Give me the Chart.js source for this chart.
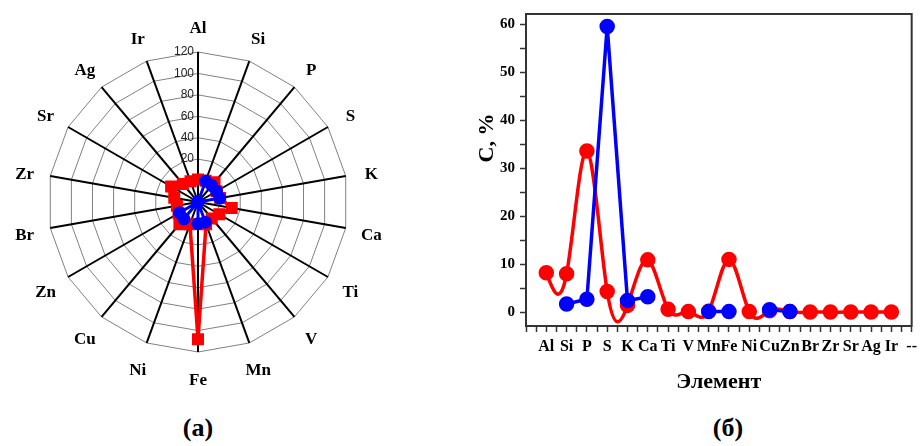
<!DOCTYPE html>
<html>
<head>
<meta charset="utf-8">
<script src="https://cdn.jsdelivr.net/npm/chart.js@4.4.0/dist/chart.umd.min.js"></script>
<style>
  body { margin: 0; background: #fff; width: 922px; height: 446px; position: relative; overflow: hidden; font-family: "Liberation Serif", serif; }
  #radar { position: absolute; left: 0; top: 0; }
  #line { position: absolute; left: 460px; top: 0; }
  .cap { position: absolute; top: 410px; width: 80px; text-align: center; font-weight: bold; font-size: 26px; line-height: 36px; }
</style>
</head>
<body>
<canvas id="radar" width="400" height="404"></canvas>
<canvas id="line" width="462" height="400"></canvas>
<div class="cap" style="left:158px">(а)</div>
<div class="cap" style="left:688px">(б)</div>
<script>
// (a) radar
const radarLabels = ['Al', 'Si', 'P', 'S', 'K', 'Ca', 'Ti', 'V', 'Mn', 'Fe', 'Ni', 'Cu', 'Zn', 'Br', 'Zr', 'Sr', 'Ag', 'Ir'];
const radarRed = [1, 1, 4, 0, 1, 12, 3, 0, 2, 108, 2, 7, 1, 0, 2.5, 9, 2, 0.5];
const radarBlue = [-20, 0.8, 0, 0, 0.6, -20, -20, -20, 0, 0.2, -20, 0.5, 0, -20, -20, -20, -20, -20];
const radarTicks = [20, 40, 60, 80, 100, 120];

// (б) line
const elements = ['Al', 'Si', 'P', 'S', 'K', 'Ca', 'Ti', 'V', 'Mn', 'Fe', 'Ni', 'Cu', 'Zn', 'Br', 'Zr', 'Sr', 'Ag', 'Ir', '--'];
const redVals = [8.2, 8.0, 33.6, 4.3, 1.4, 10.9, 0.6, 0.1, 0.2, 11.0, 0.1, 0.3, 0.1, 0, 0, 0, 0, 0];
const blueVals = [null, 1.7, 2.7, 59.6, 2.4, 3.2, null, null, 0.1, 0.1, null, 0.5, 0.1, null, null, null, null, null];

const serif = "'Liberation Serif', 'Times New Roman', serif";
Chart.defaults.font.family = serif;
Chart.defaults.color = '#000';

// ring values beside the top spoke, element names centred along each spoke
const radarText = {
    id: 'radarText',
    afterDraw(chart) {
        const s = chart.scales.r;
        const ctx = chart.ctx;
        ctx.save();
        ctx.font = "12px 'Liberation Sans', Arial, sans-serif";
        ctx.fillStyle = '#222';
        ctx.textAlign = 'right';
        ctx.textBaseline = 'middle';
        radarTicks.forEach(v => {
            ctx.fillText(String(v), s.xCenter - 4, s.yCenter - s.getDistanceFromCenterForValue(v));
        });
        ctx.font = 'bold 17px ' + serif;
        ctx.fillStyle = '#000';
        ctx.textAlign = 'center';
        radarLabels.forEach((lab, i) => {
            const p = s.getPointPosition(i, s.drawingArea + 26);
            ctx.fillText(lab, p.x, p.y + 3);
        });
        ctx.restore();
    }
};

new Chart(document.getElementById('radar'), {
    type: 'radar',
    data: {
        labels: radarLabels,
        datasets: [
            {
                data: radarBlue,
                borderColor: '#0000ff',
                backgroundColor: '#0000ff',
                borderWidth: 3,
                pointStyle: 'circle',
                pointRadius: 5,
                fill: false
            },
            {
                data: radarRed,
                borderColor: '#ff0000',
                backgroundColor: '#ff0000',
                borderWidth: 3.5,
                pointStyle: 'rect',
                pointRadius: 6,
                fill: false
            }
        ]
    },
    options: {
        responsive: false,
        animation: false,
        layout: { padding: { left: 48, right: 52, top: 52, bottom: 52 } },
        plugins: { legend: { display: false }, tooltip: { enabled: false } },
        scales: {
            r: {
                min: -20,
                max: 120,
                ticks: { stepSize: 20, display: false },
                grid: { circular: false, color: '#808080', lineWidth: 1 },
                angleLines: { color: '#000', lineWidth: 2 },
                pointLabels: { display: false }
            }
        }
    },
    plugins: [radarText]
});

const toPoints = vals => vals.map((v, i) => ({ x: i, y: v }));

// natural cubic spline through the points, handed to Chart.js as bezier control points
const naturalSpline = {
    id: 'naturalSpline',
    beforeDatasetDraw(chart, args) {
        if (!chart.data.datasets[args.index].naturalSpline) return;
        const pts = args.meta.data;
        const n = pts.length;
        if (n < 3) return;
        const h = pts[1].x - pts[0].x;
        const M = new Array(n).fill(0);
        const c = new Array(n).fill(0);
        const d = new Array(n).fill(0);
        for (let i = 1; i < n - 1; i++) {
            const rhs = 6 * (pts[i + 1].y - 2 * pts[i].y + pts[i - 1].y) / (h * h);
            const den = 4 - (i > 1 ? c[i - 1] : 0);
            c[i] = 1 / den;
            d[i] = (rhs - (i > 1 ? d[i - 1] : 0)) / den;
        }
        for (let i = n - 2; i >= 1; i--) M[i] = d[i] - c[i] * M[i + 1];
        pts.forEach((p, i) => {
            let slope;
            if (i < n - 1) {
                slope = (pts[i + 1].y - p.y) / h - h * (2 * M[i] + M[i + 1]) / 6;
            } else {
                slope = (p.y - pts[i - 1].y) / h + h * (M[i - 1] + 2 * M[i]) / 6;
            }
            p.cp1x = p.x - h / 3;
            p.cp1y = p.y - slope * h / 3;
            p.cp2x = p.x + h / 3;
            p.cp2y = p.y + slope * h / 3;
        });
        args.meta.dataset._pointsUpdated = true;
    }
};

const frame = {
    id: 'frame',
    beforeDatasetsDraw(chart) {
        const { ctx, chartArea: a } = chart;
        ctx.save();
        ctx.strokeStyle = '#333';
        ctx.lineWidth = 2;
        ctx.strokeRect(a.left, a.top, a.right - a.left, a.bottom - a.top);
        ctx.restore();
    }
};

const yTitle = {
    id: 'yTitle',
    afterDraw(chart) {
        const { ctx, chartArea: a } = chart;
        ctx.save();
        ctx.translate(a.left - 39, a.top + 124);
        ctx.rotate(-Math.PI / 2);
        ctx.font = 'bold 22px ' + serif;
        ctx.fillStyle = '#000';
        ctx.textAlign = 'center';
        ctx.textBaseline = 'middle';
        ctx.fillText('C, %', 0, 0);
        ctx.restore();
    }
};

new Chart(document.getElementById('line'), {
    type: 'line',
    data: {
        datasets: [
            {
                data: toPoints(blueVals),
                borderColor: '#0000ff',
                backgroundColor: '#0000ff',
                borderWidth: 3.5,
                pointRadius: 6,
                tension: 0,
                spanGaps: false
            },
            {
                data: toPoints(redVals),
                borderColor: '#ff0000',
                backgroundColor: '#ff0000',
                borderWidth: 3.5,
                pointRadius: 6,
                tension: 0.4,
                naturalSpline: true
            }
        ]
    },
    options: {
        responsive: false,
        animation: false,
        layout: { padding: { top: 14, right: 7, left: 0, bottom: 0 } },
        plugins: { legend: { display: false }, tooltip: { enabled: false } },
        scales: {
            x: {
                type: 'linear',
                min: -1,
                max: 18,
                ticks: {
                    stepSize: 0.5,
                    autoSkip: false,
                    maxRotation: 0,
                    includeBounds: false,
                    padding: 5,
                    color: '#000',
                    font: { size: 16, weight: 'bold' },
                    callback: v => (Number.isInteger(v) && v >= 0 ? elements[v] : '')
                },
                grid: { drawOnChartArea: false, tickLength: 6, tickColor: '#333', tickWidth: 1.5 },
                border: { color: '#333', width: 2 },
                title: {
                    display: true,
                    text: 'Элемент',
                    color: '#000',
                    font: { size: 22, weight: 'bold' },
                    padding: { top: 4, bottom: 4 }
                },
                afterFit: s => { s.height = 74; }
            },
            y: {
                min: -2.9,
                max: 62.2,
                ticks: {
                    stepSize: 5,
                    includeBounds: false,
                    padding: 5,
                    color: '#000',
                    font: { size: 15, weight: 'bold' },
                    callback: v => (v % 10 === 0 ? v : '')
                },
                grid: { drawOnChartArea: false, tickLength: 6, tickColor: '#333', tickWidth: 1.5 },
                border: { color: '#333', width: 2 },
                afterFit: s => { s.width = 66; }
            }
        }
    },
    plugins: [naturalSpline, frame, yTitle]
});
</script>
</body>
</html>
